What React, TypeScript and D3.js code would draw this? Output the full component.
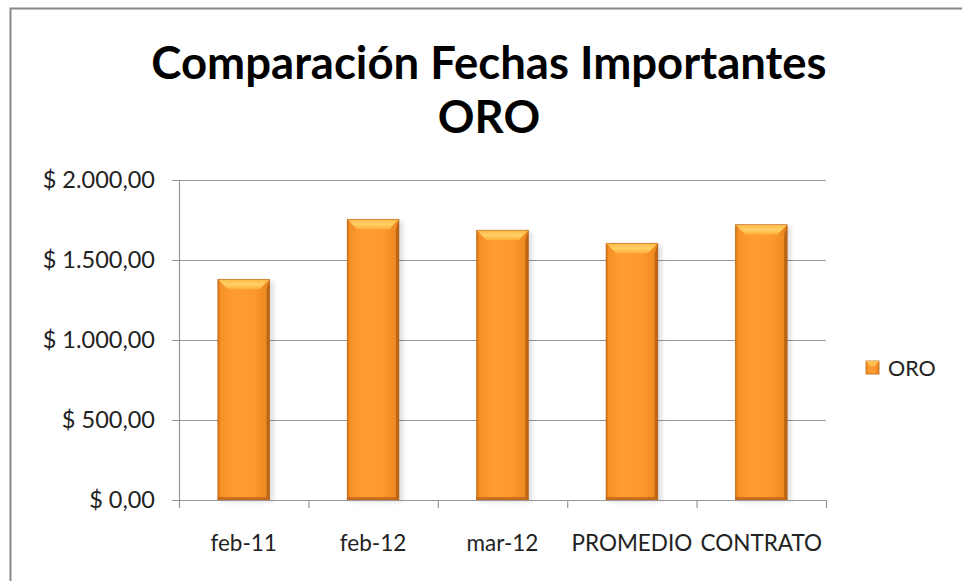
import React from 'react';
import * as d3 from 'd3';

// data
const categories = ['feb-11', 'feb-12', 'mar-12', 'PROMEDIO', 'CONTRATO'];
const oroValues = [1379, 1754, 1686, 1604, 1721];
const yTicks = [0, 500, 1000, 1500, 2000];
const seriesName = 'ORO';
const titleLines = ['Comparación Fechas Importantes', 'ORO'];

const W = 962;
const H = 581;
const margin = { left: 179, right: 136, top: 180, bottom: 81 };
const font = 'Lato, "Open Sans", sans-serif';

const locale = d3.formatLocale({
  decimal: ',',
  thousands: '.',
  grouping: [3],
  currency: ['$ ', ''],
});
const fmt = locale.format('$,.2f');

function Bar({ x, y, w, h }: { x: number; y: number; w: number; h: number }) {
  const bev = Math.min(10, w / 4);
  return (
    <g>
      <rect x={x + 2} y={y + 2} width={w + 2} height={h} fill="#000" opacity={0.12} filter="url(#blur)" />
      <rect x={x} y={y} width={w} height={h} fill="url(#barBody)" />
      {/* top bevel */}
      <path d={`M${x},${y}L${x + w},${y}L${x + w - bev},${y + bev}L${x + bev},${y + bev}Z`} fill="url(#barTop)" />
      {/* right edge */}
      <path d={`M${x + w},${y}L${x + w},${y + h}L${x + w - 3},${y + h - 2}L${x + w - 3},${y + bev}Z`} fill="#b45f12" opacity={0.85} />
      {/* left edge */}
      <path d={`M${x},${y}L${x + 2},${y + 2}L${x + 2},${y + h}L${x},${y + h}Z`} fill="#e07e1c" />
      {/* bottom edge */}
      <rect x={x} y={y + h - 3} width={w} height={3} fill="#c06515" opacity={0.8} />
      <rect x={x} y={y} width={w} height={h} fill="none" stroke="#a55a14" strokeWidth={0.8} opacity={0.6} />
    </g>
  );
}

export default function App() {
  const innerW = W - margin.left - margin.right;
  const innerH = H - margin.top - margin.bottom;

  const x = d3.scaleBand<string>()
    .domain(categories)
    .range([margin.left, margin.left + innerW])
    .paddingInner(0.6)
    .paddingOuter(0.3);
  const y = d3.scaleLinear().domain([0, 2000]).range([margin.top + innerH, margin.top]);
  const step = x.step();
  const bounds = d3.range(categories.length + 1).map(i => margin.left + i * step);
  const base = y(0);

  return (
    <div style={{ position: 'fixed', left: 0, top: 0 }}>
      <svg width={W} height={H} style={{ display: 'block', background: '#fff' }}>
        <defs>
          <linearGradient id="barBody" x1="0" x2="1" y1="0" y2="0">
            <stop offset="0" stopColor="#f48e25" />
            <stop offset="0.3" stopColor="#ff9c33" />
            <stop offset="0.7" stopColor="#fd9830" />
            <stop offset="1" stopColor="#ea861f" />
          </linearGradient>
          <linearGradient id="barTop" x1="0" x2="0" y1="0" y2="1">
            <stop offset="0" stopColor="#ffb748" />
            <stop offset="0.5" stopColor="#ffd065" />
            <stop offset="1" stopColor="#ffad3a" />
          </linearGradient>
          <filter id="blur" x="-20%" y="-20%" width="140%" height="140%">
            <feGaussianBlur stdDeviation="2" />
          </filter>
        </defs>

        {/* chart border */}
        <rect x={10.5} y={8.5} width={W} height={H} fill="none" stroke="#878787" strokeWidth={2} />

        {/* title */}
        <text x={489} y={79} textAnchor="middle" fontFamily={font} fontWeight="bold" fontSize={45.5} fill="#000">
          {titleLines[0]}
        </text>
        <text x={489} y={133} textAnchor="middle" fontFamily={font} fontWeight="bold" fontSize={45.5} fill="#000">
          {titleLines[1]}
        </text>

        {/* gridlines + y ticks */}
        {yTicks.map(t => (
          <g key={t}>
            <line x1={margin.left - 7} x2={margin.left + innerW} y1={Math.round(y(t)) + 0.5} y2={Math.round(y(t)) + 0.5} stroke="#979797" strokeWidth={1.2} />
            <text x={155} y={y(t)} dy="0.35em" textAnchor="end" fontFamily={font} fontSize={23.5} fill="#222">
              {fmt(t)}
            </text>
          </g>
        ))}
        <line x1={margin.left + 0.5} x2={margin.left + 0.5} y1={margin.top} y2={base} stroke="#979797" strokeWidth={1.2} />

        {/* bars */}
        {categories.map((c, i) => (
          <Bar key={c} x={x(c)!} y={y(oroValues[i])} w={x.bandwidth()} h={base - y(oroValues[i])} />
        ))}

        {/* x axis */}
        <line x1={margin.left} x2={margin.left + innerW} y1={base + 0.5} y2={base + 0.5} stroke="#979797" strokeWidth={1.2} />
        {bounds.map((b, i) => (
          <line key={i} x1={b + 0.5} x2={b + 0.5} y1={base} y2={base + 8} stroke="#979797" strokeWidth={1.2} />
        ))}
        {categories.map(c => (
          <text key={c} x={x(c)! + x.bandwidth() / 2} y={551} textAnchor="middle" fontFamily={font} fontSize={22.5} fill="#222">
            {c}
          </text>
        ))}

        {/* legend */}
        <rect x={866} y={361} width={13} height={13} fill="url(#barBody)" stroke="#b9651a" strokeWidth={0.8} />
        <path d="M866,361L879,361L875,366L870,366Z" fill="#ffc050" />
        <text x={888} y={368} dy="0.35em" fontFamily={font} fontSize={21.5} fill="#222">
          {seriesName}
        </text>
      </svg>
    </div>
  );
}
